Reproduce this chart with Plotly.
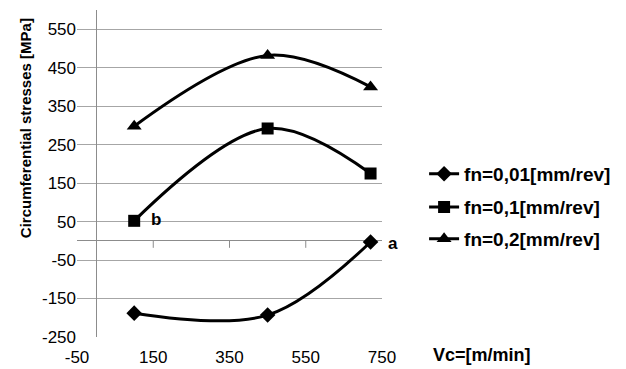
import plotly.graph_objects as go

# ---- data ----
vc = [100, 450, 720]
fn_001 = [-188, -193, -3]
fn_01 = [52, 292, 175]
fn_02 = [298, 482, 400]
series_names = ["fn=0,01[mm/rev]", "fn=0,1[mm/rev]", "fn=0,2[mm/rev]"]
x_ticks = [-50, 150, 350, 550, 750]
x_tick_text = ["-50", "150", "350", "550", "750"]
y_ticks = [-250, -150, -50, 50, 150, 250, 350, 450, 550]
y_tick_text = ["-250", "-150", "-50", "50", "150", "250", "350", "450", "550"]

FONT = "Liberation Sans, Arial, sans-serif"
GRID = "#a6a6a6"
AXIS = "#8c8c8c"

fig = go.Figure()
symbols = ["diamond", "square", "triangle-up"]
sizes = [12, 12, 13]
legends = ["legend", "legend2", "legend3"]
for ys, name, sym, sz, lg in zip([fn_001, fn_01, fn_02], series_names, symbols, sizes, legends):
    fig.add_trace(go.Scatter(
        x=vc, y=ys, name=name, mode="lines+markers",
        line=dict(color="black", width=3, shape="spline", smoothing=1.0),
        marker=dict(symbol=sym, size=sz, color="black"),
        legend=lg,
    ))

# x-axis tick marks on the y=0 axis line
for t in x_ticks[1:-1]:
    fig.add_shape(type="line", xref="x", yref="y", x0=t, x1=t,
                  ysizemode="pixel", yanchor=0, y0=0, y1=-7,
                  line=dict(color=AXIS, width=1))

# point labels
fig.add_annotation(x=vc[0], y=fn_01[0], text="<b>b</b>", showarrow=False,
                   xshift=22, yshift=1, font=dict(family=FONT, size=17, color="black"))
fig.add_annotation(x=vc[2], y=fn_001[2], text="<b>a</b>", showarrow=False,
                   xshift=22, yshift=-2, font=dict(family=FONT, size=17, color="black"))

# axis titles
fig.add_annotation(xref="paper", yref="paper", x=-0.170, y=0.639,
                   xanchor="center", yanchor="middle",
                   text="<b>Circumferential stresses [MPa]</b>", textangle=-90,
                   showarrow=False, font=dict(family=FONT, size=15, color="black"))
fig.add_annotation(xref="paper", yref="paper", x=1.328, y=-0.055,
                   xanchor="center", yanchor="middle",
                   text="<b>Vc=[m/min]</b>", showarrow=False,
                   font=dict(family=FONT, size=18, color="black"))

leg_common = dict(xanchor="left", yanchor="middle", bgcolor="rgba(0,0,0,0)",
                  font=dict(family=FONT, size=19, color="black", weight="bold"),
                  borderwidth=0)
fig.update_layout(
    width=626, height=369,
    margin=dict(l=77, r=244, t=10, b=32, autoexpand=False),
    paper_bgcolor="white", plot_bgcolor="white",
    showlegend=True,
    legend=dict(x=1.138, y=0.499, **leg_common),
    legend2=dict(x=1.138, y=0.397, **leg_common),
    legend3=dict(x=1.138, y=0.300, **leg_common),
    xaxis=dict(range=[-50, 750], tickvals=x_ticks, ticktext=x_tick_text,
               showgrid=False, automargin=False,
               zeroline=True, zerolinecolor=AXIS, zerolinewidth=1,
               showline=False, ticks="outside", ticklen=5, tickcolor="rgba(0,0,0,0)",
               tickfont=dict(family=FONT, size=17, color="black")),
    yaxis=dict(range=[-250, 600], tickvals=y_ticks, ticktext=y_tick_text,
               showgrid=True, automargin=False,
               gridcolor=GRID, gridwidth=1,
               zeroline=True, zerolinecolor=AXIS, zerolinewidth=1,
               showline=False, ticks="",
               tickfont=dict(family=FONT, size=17, color="black")),
)

fig.write_html("out.html", config={"displayModeBar": False},
               post_script="document.body.style.margin='0px';document.body.style.overflow='hidden';")
